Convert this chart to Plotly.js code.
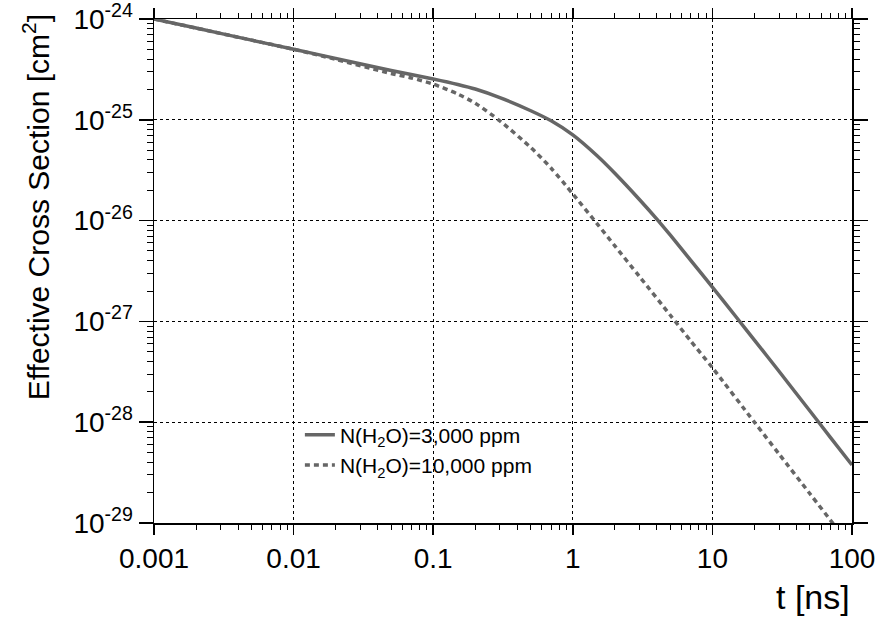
<!DOCTYPE html>
<html>
<head>
<meta charset="utf-8">
<script src="https://cdn.plot.ly/plotly-3.0.1.min.js"></script>
<style>html,body{margin:0;padding:0;background:#fff;}#chart{width:882px;height:618px;}</style>
</head>
<body>
<div id="chart"></div>
<script>
// time [ns]
var tSolid = [0.001, 0.002, 0.005, 0.01, 0.02, 0.05, 0.1, 0.15, 0.2, 0.3, 0.5, 0.7, 1, 1.5, 2, 3, 4, 5, 7, 10, 15, 20, 30, 50, 70, 100];
// effective cross section [cm^2], N(H2O)=3,000 ppm
var sigma3000 = [1.0e-24, 8.13e-25, 6.17e-25, 5.01e-25, 4.07e-25, 3.09e-25, 2.54e-25, 2.24e-25, 2.02e-25, 1.66e-25, 1.23e-25, 9.77e-26, 7.08e-26, 4.37e-26, 2.95e-26, 1.62e-26, 1.035e-26, 7.16e-27, 4.03e-27, 2.19e-27, 1.08e-27, 6.53e-28, 3.20e-28, 1.29e-28, 7.08e-29, 3.76e-29];
var tDotted = [0.001, 0.002, 0.005, 0.01, 0.02, 0.05, 0.07, 0.1, 0.15, 0.2, 0.3, 0.5, 0.7, 1, 1.5, 2, 3, 5, 7, 10, 20, 30, 50, 75, 100];
// N(H2O)=10,000 ppm
var sigma10000 = [1.0e-24, 8.13e-25, 6.17e-25, 5.01e-25, 3.98e-25, 2.88e-25, 2.60e-25, 2.26e-25, 1.80e-25, 1.46e-25, 9.77e-26, 5.31e-26, 3.31e-26, 1.84e-26, 9.23e-27, 5.62e-27, 2.79e-27, 1.15e-27, 6.38e-28, 3.47e-28, 1.0e-28, 4.84e-29, 1.95e-29, 9.44e-30, 5.62e-30];

var seriesNames = ['N(H<sub>2</sub>O)=3,000 ppm', 'N(H<sub>2</sub>O)=10,000 ppm'];
var xTickVals = [0.001, 0.01, 0.1, 1, 10, 100];
var xTickText = ['0.001', '0.01', '0.1', '1', '10', '100'];
var yTickVals = [1e-29, 1e-28, 1e-27, 1e-26, 1e-25, 1e-24];
var yTickText = ['10<sup>-29</sup>', '10<sup>-28</sup>', '10<sup>-27</sup>', '10<sup>-26</sup>', '10<sup>-25</sup>', '10<sup>-24</sup>'];
var yTitle = 'Effective Cross Section [cm<sup>2</sup>]';
var xTitle = 't [ns]';

var FONT = '"Liberation Sans", Arial, Helvetica, sans-serif';
var gray = '#666666';

var traces = [
  {x: tSolid, y: sigma3000, name: seriesNames[0], mode: 'lines', type: 'scatter',
   line: {color: gray, width: 3.5, shape: 'spline', smoothing: 0.7}},
  {x: tDotted, y: sigma10000, name: seriesNames[1], mode: 'lines', type: 'scatter',
   line: {color: gray, width: 3.5, dash: '5px,4px', shape: 'spline', smoothing: 0.7}}
];

var layout = {
  width: 882, height: 618,
  margin: {l: 154, r: 30, t: 19, b: 95},
  paper_bgcolor: '#fff', plot_bgcolor: '#fff',
  showlegend: true,
  legend: {x: 0.209, y: 0.215, xanchor: 'left', yanchor: 'top', bgcolor: 'rgba(0,0,0,0)',
           font: {family: FONT, size: 21, color: '#000'}, tracegroupgap: 0, itemwidth: 30},
  xaxis: {type: 'log', range: [-3.0001, 2.0001], tickvals: xTickVals, ticktext: xTickText,
          showline: true, linecolor: '#000', linewidth: 1.5, mirror: 'allticks',
          ticks: 'outside', ticklen: 10, tickwidth: 1.5, tickcolor: '#000', ticklabeloverflow: 'allow',
          showgrid: true, gridcolor: '#000', gridwidth: 1, griddash: 'dot',
          zeroline: false, tickfont: {family: FONT, size: 28, color: '#000'},
          minor: {dtick: 'D1', ticks: 'outside', ticklen: 5, tickwidth: 1, tickcolor: '#000', showgrid: false}},
  yaxis: {type: 'log', range: [-29.0001, -23.9999], tickvals: yTickVals, ticktext: yTickText,
          showline: true, linecolor: '#000', linewidth: 1.5, mirror: 'allticks',
          ticks: 'outside', ticklen: 14, tickwidth: 1.5, tickcolor: '#000', ticklabeloverflow: 'allow',
          showgrid: true, gridcolor: '#000', gridwidth: 1, griddash: 'dot',
          zeroline: false, tickfont: {family: FONT, size: 28, color: '#000'},
          minor: {dtick: 'D1', ticks: 'outside', ticklen: 6, tickwidth: 1, tickcolor: '#000', showgrid: false}},
  annotations: [
    {text: yTitle, xref: 'paper', yref: 'paper', x: -0.168, y: 0.626, xanchor: 'center', yanchor: 'middle',
     textangle: -90, showarrow: false, font: {family: FONT, size: 30, color: '#000'}},
    {text: xTitle, xref: 'paper', yref: 'paper', x: 1.0, y: -0.146, xanchor: 'right', yanchor: 'middle',
     showarrow: false, font: {family: FONT, size: 34, color: '#000'}}
  ]
};

Plotly.newPlot('chart', traces, layout, {displayModeBar: false, staticPlot: true});
</script>
</body>
</html>
